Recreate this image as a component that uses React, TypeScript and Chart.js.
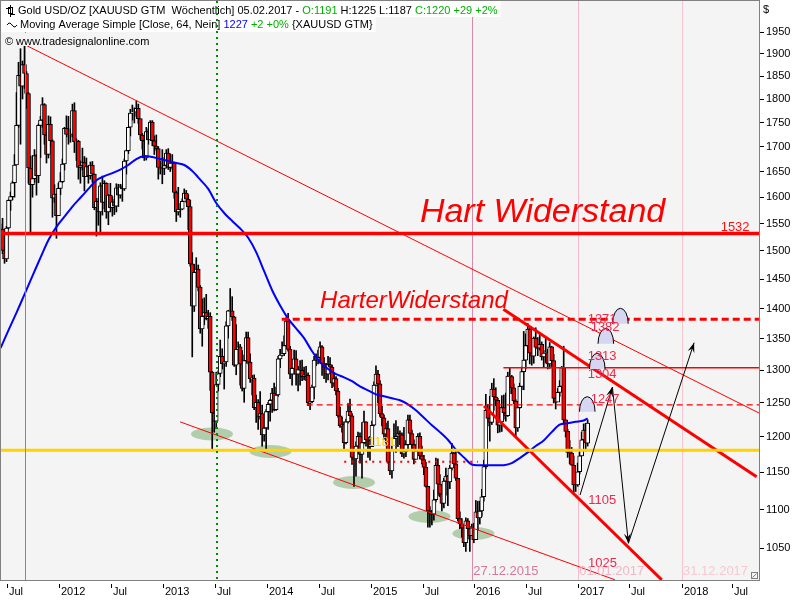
import React, { useEffect, useRef } from "react";
import { Chart, registerables } from "chart.js";

Chart.register(...registerables);

// ---------- weekly candles (bar 0 = week ending 19.06.2011, bar 294 = 05.02.2017) ----------
const firstOpen = 1530;
const closes = [
  1540,1501,1486,1542,1594,1601,1628,1663,1744,1852,1828,1876,1856,1812,1657,1624,1636,1682,1642,1744,1755,1788,1724,1684,1746,1712,1598,1606,1565,
  1617,1630,1665,1738,1725,1724,1725,1775,1710,1711,1658,1662,1668,1640,1660,1642,1663,1645,1580,1592,1572,1622,1590,1627,1572,1604,1580,1591,1583,1618,1604,1620,1616,1671,1692,1740,1770,1772,1772,1780,1758,1724,1712,1677,1731,1714,1751,1712,1701,1696,1658,1656,
  1656,1662,1687,1658,1667,1667,1609,1572,1577,1577,1592,1608,1596,1582,1477,1404,1462,1468,1436,1366,1387,1393,1383,1387,1297,1235,1223,1278,1295,1322,1310,1313,1371,1396,1396,1386,1308,1333,1337,1310,1272,1315,1352,1313,1287,1288,1243,1251,1230,1234,1203,1213,
  1237,1248,1254,1265,1240,1262,1318,1324,1326,1339,1379,1333,1294,1303,1318,1294,1301,1300,1290,1293,1292,1250,1252,1274,1316,1316,1320,1337,1310,1305,1294,1309,1305,1280,1287,1268,1231,1216,1218,1192,1222,1238,1231,1171,1169,1187,1201,1175,1192,1222,1196,1195,
  1186,1217,1277,1294,1279,1234,1228,1204,1212,1165,1152,1182,1198,1201,1205,1203,1176,1179,1189,1225,1205,1189,1168,1180,1201,1173,1168,1157,1131,1098,1095,1094,1113,1160,1134,1121,1108,1138,1145,1137,1156,1177,1162,1142,1088,1081,1076,1057,1085,1075,1066,1076,1061,
  1097,1089,1098,1117,1158,1239,1227,1221,1271,1259,1254,1217,1222,1243,1235,1231,1291,1290,1273,1253,1213,1243,1275,1298,1316,1339,1366,1327,1322,1351,1336,1335,1341,1321,1327,1328,1310,1337,1315,1257,1251,1266,1275,1304,1225,1208,1178,1177,1160,1133,1133,1151,
  1173,1196,1210,1191,1220
];
const highs = [
  1549,1560,1508,1545,1595,1610,1631,1684,1814,1881,1912,1884,1921,1860,1814,1680,1682,1694,1684,1747,1763,1803,1790,1729,1764,1762,1714,1624,1606,
  1627,1648,1675,1740,1764,1763,1737,1789,1792,1716,1713,1671,1697,1680,1677,1662,1669,1670,1645,1598,1598,1628,1641,1632,1628,1605,1627,1601,1596,1626,1625,1625,1624,1675,1693,1740,1778,1787,1781,1796,1789,1754,1727,1721,1740,1737,1754,1754,1722,1724,1700,1671,
  1694,1678,1694,1696,1685,1684,1668,1612,1619,1588,1597,1616,1613,1605,1594,1497,1476,1488,1475,1439,1416,1418,1424,1397,1393,1298,1267,1297,1299,1348,1334,1322,1378,1397,1434,1420,1387,1373,1345,1341,1331,1324,1361,1361,1326,1292,1293,1262,1255,1267,1247,1216,
  1240,1251,1256,1272,1280,1274,1322,1333,1345,1355,1385,1392,1338,1306,1332,1331,1306,1315,1316,1305,1306,1296,1257,1277,1322,1326,1332,1345,1339,1320,1311,1322,1320,1308,1296,1290,1272,1244,1229,1222,1226,1249,1256,1234,1177,1193,1207,1206,1221,1238,1222,1200,
  1201,1223,1282,1307,1300,1284,1245,1232,1220,1223,1175,1188,1219,1224,1215,1209,1206,1214,1195,1232,1232,1210,1196,1189,1205,1206,1187,1174,1164,1131,1104,1099,1126,1170,1169,1147,1125,1142,1156,1146,1160,1191,1178,1180,1141,1097,1088,1081,1089,1088,1078,1081,1082,
  1112,1111,1111,1127,1167,1263,1248,1260,1280,1287,1273,1257,1244,1261,1262,1265,1297,1304,1292,1279,1255,1248,1280,1305,1362,1358,1375,1367,1334,1353,1368,1352,1358,1345,1331,1352,1333,1344,1338,1325,1264,1272,1284,1306,1338,1225,1211,1195,1185,1173,1142,1163,
  1182,1207,1219,1220,1225
];
const lows = [
  1514,1495,1478,1481,1540,1575,1595,1600,1670,1740,1705,1800,1823,1780,1627,1535,1600,1629,1604,1628,1678,1740,1705,1667,1677,1701,1562,1590,1523,
  1565,1605,1628,1653,1720,1705,1709,1720,1688,1672,1635,1627,1653,1612,1640,1627,1635,1629,1576,1527,1547,1533,1566,1578,1560,1548,1572,1564,1567,1572,1582,1598,1592,1613,1645,1686,1722,1755,1749,1763,1748,1715,1695,1672,1673,1705,1720,1702,1684,1692,1635,1645,
  1626,1644,1657,1654,1650,1655,1598,1554,1566,1562,1576,1593,1590,1539,1473,1321,1395,1446,1430,1359,1338,1373,1381,1367,1269,1180,1207,1212,1268,1290,1302,1271,1306,1351,1389,1380,1306,1293,1313,1277,1268,1251,1311,1310,1281,1262,1240,1221,1211,1226,1187,1194,
  1182,1211,1223,1236,1238,1239,1260,1304,1322,1323,1335,1330,1287,1277,1294,1277,1268,1277,1284,1285,1284,1246,1240,1250,1256,1307,1310,1311,1292,1287,1281,1285,1302,1273,1275,1262,1229,1214,1207,1183,1190,1220,1228,1161,1131,1145,1180,1163,1142,1190,1187,1171,
  1167,1186,1216,1276,1250,1230,1216,1197,1191,1163,1147,1142,1182,1178,1186,1189,1172,1170,1172,1182,1200,1181,1162,1170,1174,1169,1162,1147,1130,1077,1077,1080,1086,1110,1118,1117,1098,1102,1119,1105,1128,1153,1159,1139,1085,1075,1064,1052,1046,1062,1046,1066,1057,
  1061,1073,1081,1091,1111,1155,1216,1194,1218,1239,1246,1206,1207,1208,1226,1223,1230,1264,1264,1249,1200,1208,1242,1270,1270,1302,1336,1310,1308,1311,1334,1323,1332,1316,1304,1312,1302,1303,1306,1250,1241,1253,1260,1275,1219,1200,1171,1162,1160,1122,1124,1131,
  1148,1173,1195,1180,1187
];

// ---------- 64-week simple moving average ----------
const maBars = [0,4,8,12,16,20,24,28,32,36,40,44,48,52,56,60,64,68,72,76,80,84,88,92,96,100,104,108,112,116,120,124,128,132,136,140,144,148,152,156,160,164,168,172,176,180,184,188,192,196,200,204,208,212,216,220,224,228,232,236,240,244,248,252,256,260,264,268,272,276,280,284,288,292,294];
const maValues = [1335,1364,1393,1424,1456,1488,1520,1544,1563,1582,1599,1616,1633,1641,1647,1654,1663,1675,1681,1679,1675,1671,1667,1663,1651,1634,1616,1589,1570,1555,1541,1524,1498,1464,1431,1405,1383,1367,1351,1330,1313,1302,1294,1289,1283,1275,1269,1263,1260,1257,1254,1248,1239,1228,1217,1207,1196,1182,1171,1161,1160,1160,1160,1160,1163,1170,1178,1187,1195,1207,1218,1220,1222,1224,1227];

// ---------- axes ----------
const yTickValues = [1050,1100,1150,1200,1250,1300,1350,1400,1450,1500,1550,1600,1650,1700,1750,1800,1850,1900,1950];
const xTickBars = [3.1,29.1,55.2,81.5,107.4,133.5,159.4,185.5,211.4,236.9,263.1,289,314.7,341.1,366.5];
const xTickLabels = ["Jul","2012","Jul","2013","Jul","2014","Jul","2015","Jul","2016","Jul","2017","Jul","2018","Jul"];
const xMinBar = 0.23;
const xMaxBar = 379.8;
const yMinPrice = 1010.8;
const yMaxPrice = 2024.6;

// ---------- drawn levels ----------
const hardResistance = 1532;
const harterResistance = 1382;
const level1304 = 1304;
const level1247 = 1247;
const level1165 = 1165;
const support1181 = 1181;
const harterStartBar = 140.8;
const level1304StartBar = 251.8;
const level1247StartBar = 153.3;
const level1165Bars = [172.1, 239.1];

// ---------- trend lines (bar, price) ----------
const upperTrendBars = [12.25, 379.8];
const upperTrendPrices = [1921, 1235];
const lowerTrendBars = [89.9, 307.7];
const lowerTrendPrices = [1222, 1011];
const channelTopBars = [251.8, 378.6];
const channelTopPrices = [1398.6, 1144.2];
const channelBottomBars = [242.1, 331.1];
const channelBottomPrices = [1245.4, 1011];

// ---------- forecast path ----------
const pathBars = [290.2, 306.4, 314.4, 347.3];
const pathPrices = [1119.3, 1274.1, 1056.3, 1343.7];

// ---------- vertical markers ----------
const peakBar = 12;
const lowMarkBar = 108.4;
const dateLineBars = [236, 289, 341];
const dateLineLabels = ["27.12.2015", "01.01.2017", "31.12.2017"];

// ---------- annotations ----------
const ellipseBars = [105.9, 135.2, 177.0, 214.8, 236.8];
const ellipsePrices = [1204.3, 1179.3, 1136.2, 1090.8, 1068.8];
const domeBars = [293.8, 298.8, 303.1, 310.4];
const domeBasePrices = [1237, 1302, 1342, 1374.7];
const domeTopPrices = [1259.4, 1326.7, 1367, 1400.3];
const levelLabelTexts = ["1371", "1382", "1313", "1304", "1247", "1105", "1025"];
const levelLabelBars = [294.0, 295.5, 294.0, 294.0, 295.5, 294.3, 294.2];
const levelLabelPrices = [1381.6, 1369.3, 1321.3, 1293.1, 1255.9, 1111.9, 1031.6];
const hardLabelBar = 360.6;
const hardLabelPrice = 1543.8;
const supportLabelBar = 184.0;
const supportLabelPrice = 1192.1;
const dateLabelPrice = 1021.7;
const bigTitle = "Hart Widerstand";
const bigTitleBar = 210;
const bigTitlePrice = 1553;
const subTitle = "HarterWiderstand";
const subTitleBar = 160;
const subTitlePrice = 1400.7;

const headerLine1 = [
  ["Gold USD/OZ [XAUUSD GTM  W\u00f6chentlich] 05.02.2017 - ", "#000000"],
  ["O:1191", "#00b000"],
  [" H:1225 L:1187 ", "#000000"],
  ["C:1220 +29 +2%", "#00b000"],
];
const headerLine2 = [
  ["Moving Average Simple [Close, 64, Nein] ", "#000000"],
  ["1227", "#0000ff"],
  [" +2 +0%", "#00b000"],
  [" {XAUUSD GTM}", "#000000"],
];
const headerLine3 = "www.tradesignalonline.com";

const FONT = '"Liberation Sans", Arial, sans-serif';
const NARROW = '"Liberation Sans Narrow", "Liberation Sans", Arial, sans-serif';

function hline(price: number, from: number, to: number, color: string, width: number, dash: number[] = [], order = 5) {
  return {
    type: "line",
    data: [{ x: from, y: price }, { x: to, y: price }],
    borderColor: color,
    borderWidth: width,
    borderDash: dash,
    pointRadius: 0,
    fill: false,
    clip: 0,
    order,
  };
}
function seg(bars: number[], prices: number[], color: string, width: number, order = 5) {
  return {
    type: "line",
    data: bars.map((b, i) => ({ x: b, y: prices[i] })),
    borderColor: color,
    borderWidth: width,
    pointRadius: 0,
    fill: false,
    clip: 0,
    tension: 0,
    order,
  };
}

export default function App() {
  const ref = useRef<HTMLCanvasElement | null>(null);
  useEffect(() => {
    const canvas = ref.current;
    if (!canvas) return;
    const opens = [firstOpen, ...closes.slice(0, -1)];
    const wickData = closes.map((_, i) => ({ x: i, y: [lows[i], highs[i]] }));
    const bodyData = closes.map((c, i) => ({ x: i, y: [opens[i], c] }));
    const bodyColors = closes.map((c, i) => (c < opens[i] ? "#ff0000" : "#ffffff"));

    const decor = {
      id: "decor",
      beforeDraw(chart: any) {
        const { ctx, chartArea: a } = chart;
        ctx.save();
        ctx.fillStyle = "#ffffff";
        ctx.fillRect(0, 0, chart.width, chart.height);
        ctx.fillStyle = "#f4f4f4";
        ctx.fillRect(a.left - 1, a.top - 1, a.right - a.left + 1, a.bottom - a.top + 1);
        ctx.restore();
      },
      beforeDatasetsDraw(chart: any) {
        const { ctx, chartArea: a, scales } = chart;
        const X = scales.x, Y = scales.y;
        ctx.save();
        ctx.beginPath();
        ctx.rect(a.left, a.top, a.right - a.left, a.bottom - a.top);
        ctx.clip();
        ctx.fillStyle = "rgba(110,165,100,0.5)";
        ellipseBars.forEach((b, i) => {
          ctx.beginPath();
          ctx.ellipse(X.getPixelForValue(b), Y.getPixelForValue(ellipsePrices[i]), 21, 6.5, 0, 0, Math.PI * 2);
          ctx.fill();
        });
        const lineCols = ["#d88aa6", "#f4bccb", "#f8c4cf"];
        dateLineBars.forEach((b, i) => {
          const x = Math.round(X.getPixelForValue(b)) + 0.5;
          ctx.strokeStyle = lineCols[i];
          ctx.lineWidth = 1;
          ctx.beginPath();
          ctx.moveTo(x, a.top);
          ctx.lineTo(x, a.bottom);
          ctx.stroke();
        });
        ctx.restore();
      },
      afterDatasetsDraw(chart: any) {
        const { ctx, chartArea: a, scales } = chart;
        const X = scales.x, Y = scales.y;
        ctx.save();
        ctx.beginPath();
        ctx.rect(a.left, a.top, a.right - a.left, a.bottom - a.top);
        ctx.clip();
        const ox = Math.round(X.getPixelForValue(peakBar)) + 0.5;
        ctx.strokeStyle = "#ff6020";
        ctx.lineWidth = 1;
        ctx.beginPath();
        ctx.moveTo(ox, a.top);
        ctx.lineTo(ox, a.bottom);
        ctx.stroke();
        domeBars.forEach((b, i) => {
          const cx = X.getPixelForValue(b);
          const base = Y.getPixelForValue(domeBasePrices[i]);
          const top = Y.getPixelForValue(domeTopPrices[i]);
          ctx.beginPath();
          ctx.ellipse(cx, base, 7.8, base - top, 0, Math.PI, Math.PI * 2);
          ctx.closePath();
          ctx.fillStyle = "#d6d6f2";
          ctx.fill();
          ctx.beginPath();
          ctx.ellipse(cx, base, 7.8, base - top, 0, Math.PI, Math.PI * 2);
          ctx.strokeStyle = "#000";
          ctx.lineWidth = 1;
          ctx.stroke();
        });
        ctx.fillStyle = "#000";
        for (let k = 1; k < pathBars.length; k++) {
          const x0 = X.getPixelForValue(pathBars[k - 1]);
          const y0 = Y.getPixelForValue(pathPrices[k - 1]);
          const x1 = X.getPixelForValue(pathBars[k]);
          const y1 = Y.getPixelForValue(pathPrices[k]);
          const ang = Math.atan2(y1 - y0, x1 - x0);
          const L = 10, W = 3.5;
          ctx.beginPath();
          ctx.moveTo(x1, y1);
          ctx.lineTo(x1 - L * Math.cos(ang) + W * Math.sin(ang), y1 - L * Math.sin(ang) - W * Math.cos(ang));
          ctx.lineTo(x1 - 0.6 * L * Math.cos(ang), y1 - 0.6 * L * Math.sin(ang));
          ctx.lineTo(x1 - L * Math.cos(ang) - W * Math.sin(ang), y1 - L * Math.sin(ang) + W * Math.cos(ang));
          ctx.closePath();
          ctx.fill();
        }
        ctx.textBaseline = "middle";
        ctx.textAlign = "left";
        ctx.font = `13px ${NARROW}`;
        ctx.fillStyle = "#f0284a";
        levelLabelTexts.forEach((t, i) => {
          ctx.fillText(t, X.getPixelForValue(levelLabelBars[i]), Y.getPixelForValue(levelLabelPrices[i]));
        });
        ctx.fillStyle = "#ff1010";
        ctx.fillText(String(hardResistance), X.getPixelForValue(hardLabelBar), Y.getPixelForValue(hardLabelPrice));
        ctx.fillStyle = "#ffd200";
        ctx.fillText(String(support1181), X.getPixelForValue(supportLabelBar), Y.getPixelForValue(supportLabelPrice));
        const dateCols = ["#d87898", "#f4b4c4", "#f8c8d2"];
        dateLineBars.forEach((b, i) => {
          ctx.fillStyle = dateCols[i];
          ctx.fillText(dateLineLabels[i], X.getPixelForValue(b) + 1.5, Y.getPixelForValue(dateLabelPrice));
        });
        ctx.textBaseline = "alphabetic";
        ctx.font = `italic 34px ${FONT}`;
        ctx.fillStyle = "#ff0000";
        ctx.fillText(bigTitle, X.getPixelForValue(bigTitleBar), Y.getPixelForValue(bigTitlePrice));
        ctx.font = `italic 24px ${FONT}`;
        ctx.fillText(subTitle, X.getPixelForValue(subTitleBar), Y.getPixelForValue(subTitlePrice));
        ctx.restore();
      },
      afterDraw(chart: any) {
        const { ctx, chartArea: a, scales } = chart;
        const X = scales.x;
        ctx.save();
        ctx.font = `11px ${FONT}`;
        ctx.textBaseline = "middle";
        ctx.textAlign = "left";
        const drawLine = (parts: string[][], x0: number, yc: number, bgTop: number, bgH: number) => {
          let w = 0;
          parts.forEach((p) => (w += ctx.measureText(p[0]).width));
          ctx.fillStyle = "#ffffff";
          ctx.fillRect(a.left, bgTop, x0 + w + 3 - a.left, bgH);
          let x = x0;
          parts.forEach((p) => {
            ctx.fillStyle = p[1];
            ctx.fillText(p[0], x, yc);
            x += ctx.measureText(p[0]).width;
          });
        };
        drawLine(headerLine1, 18, 11, 1, 16);
        drawLine(headerLine2, 20, 25, 17, 15);
        ctx.fillStyle = "#f4f4f4";
        const w3 = ctx.measureText(headerLine3).width;
        ctx.fillRect(a.left, 33, 16 + w3 - a.left, 13);
        ctx.fillStyle = "#000";
        ctx.fillText("\u00a9", 5, 41.5);
        ctx.fillText(headerLine3, 16, 41.5);
        ctx.strokeStyle = "#000";
        ctx.lineWidth = 1;
        ctx.beginPath();
        ctx.moveTo(10.5, 5); ctx.lineTo(10.5, 17);
        ctx.moveTo(6, 8.5); ctx.lineTo(10, 8.5);
        ctx.moveTo(11, 14.5); ctx.lineTo(15, 14.5);
        ctx.stroke();
        ctx.strokeRect(8.5, 7.5, 4, 6);
        ctx.beginPath();
        for (let k = 0; k <= 10; k++) {
          const xx = 7 + k;
          const yy = 25 - 2 * Math.sin((k / 10) * Math.PI * 2);
          if (k === 0) ctx.moveTo(xx, yy); else ctx.lineTo(xx, yy);
        }
        ctx.stroke();
        const gx = X.getPixelForValue(lowMarkBar);
        ctx.strokeStyle = "#008a00";
        ctx.lineWidth = 2;
        ctx.setLineDash([2, 4]);
        ctx.beginPath();
        ctx.moveTo(gx, a.top);
        ctx.lineTo(gx, a.bottom);
        ctx.stroke();
        ctx.setLineDash([]);
        ctx.strokeStyle = "#808080";
        ctx.lineWidth = 1;
        ctx.strokeRect(a.left - 0.5, a.top - 0.5, a.right - a.left + 1, a.bottom - a.top + 1);
        ctx.strokeRect(a.right - 7.5, a.bottom - 7.5, 6, 6);
        ctx.beginPath();
        ctx.moveTo(a.right - 6.5, a.bottom - 2.5);
        ctx.lineTo(a.right - 2.5, a.bottom - 6.5);
        ctx.stroke();
        ctx.strokeStyle = "#000";
        ctx.fillStyle = "#000";
        ctx.font = `11px ${FONT}`;
        xTickBars.forEach((b, i) => {
          const x = Math.round(X.getPixelForValue(b)) + 0.5;
          ctx.beginPath();
          ctx.moveTo(x, a.bottom + 4);
          ctx.lineTo(x, a.bottom + 8);
          ctx.stroke();
          ctx.fillText(xTickLabels[i], x + 1.5, a.bottom + 12);
        });
        ctx.fillText("$", a.right + 4, 10);
        ctx.restore();
      },
    };

    const chart = new Chart(canvas, {
      type: "bar",
      data: {
        datasets: [
          hline(hardResistance, xMinBar, xMaxBar, "#ff0000", 3.5, [], 3),
          hline(support1181, xMinBar, xMaxBar, "#ffd200", 3, [], 3),
          hline(harterResistance, harterStartBar, xMaxBar, "#ff0000", 3, [7, 4], 4),
          hline(level1304, level1304StartBar, xMaxBar, "#ff0000", 1.5, [], 4),
          hline(level1247, level1247StartBar, xMaxBar, "#ff0000", 1.2, [6, 4], 4),
          hline(level1165, level1165Bars[0], level1165Bars[1], "#ff0000", 2, [2, 5], 4),
          seg(upperTrendBars, upperTrendPrices, "#ff0000", 1, 4),
          seg(lowerTrendBars, lowerTrendPrices, "#ff0000", 1, 4),
          seg(channelTopBars, channelTopPrices, "#ff0000", 3, 4),
          seg(channelBottomBars, channelBottomPrices, "#ff0000", 3, 4),
          seg(pathBars, pathPrices, "#000000", 1, 2),
          {
            type: "line",
            data: maBars.map((b, i) => ({ x: b, y: maValues[i] })),
            borderColor: "#0000ff",
            borderWidth: 2,
            pointRadius: 0,
            fill: false,
            tension: 0.3,
            clip: 0,
            order: 6,
          },
          {
            type: "bar",
            data: bodyData,
            backgroundColor: bodyColors,
            borderColor: "#000000",
            borderWidth: 1,
            borderSkipped: false,
            barThickness: 4,
            grouped: false,
            order: 8,
          },
          {
            type: "bar",
            data: wickData,
            backgroundColor: "#000000",
            borderWidth: 0,
            barThickness: 1,
            grouped: false,
            order: 9,
          },
        ] as any,
      },
      options: {
        animation: false,
        responsive: false,
        maintainAspectRatio: false,
        devicePixelRatio: 1,
        events: [],
        layout: { padding: { left: 1, top: 1, right: 0, bottom: 0 } },
        plugins: { legend: { display: false }, tooltip: { enabled: false } },
        scales: {
          x: {
            type: "linear",
            min: xMinBar,
            max: xMaxBar,
            offset: false,
            grid: { display: false },
            border: { display: false },
            ticks: { display: false },
            afterFit: (s: any) => {
              s.height = 20;
              s.paddingLeft = 0;
              s.paddingRight = 0;
            },
          },
          y: {
            type: "logarithmic",
            position: "right",
            min: yMinPrice,
            max: yMaxPrice,
            grid: { drawOnChartArea: false, drawTicks: true, tickLength: 5, color: "#000000" },
            border: { display: false },
            ticks: {
              autoSkip: false,
              padding: 2,
              color: "#000000",
              font: { family: FONT, size: 11 },
              callback: (v: any) => String(v),
            },
            afterBuildTicks: (s: any) => { s.ticks = yTickValues.map((v) => ({ value: v })); },
            afterFit: (s: any) => {
              s.width = 41;
              s.paddingTop = 0;
              s.paddingBottom = 0;
            },
          },
        },
      } as any,
      plugins: [decor],
    });
    return () => chart.destroy();
  }, []);

  return (
    <div style={{ position: "absolute", left: 0, top: 0, width: 800, height: 600 }}>
      <canvas ref={ref} width={800} height={600} style={{ width: 800, height: 600, display: "block" }} />
    </div>
  );
}
